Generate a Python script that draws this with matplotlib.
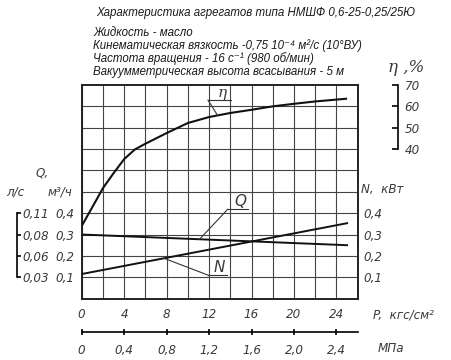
import numpy as np
import matplotlib
matplotlib.use("Agg")
import matplotlib.pyplot as plt

# pressure, kgf/cm2
p_eta = [0, 1, 2, 3, 4, 5, 6, 8, 10, 12, 14, 16, 18, 20, 22, 25]
eta = [4.0, 12.8, 21.7, 28.7, 35.3, 39.8, 42.5, 47.5, 52.2, 55.0, 56.9, 58.4, 60.0, 61.2, 62.3, 63.6]
p_line = [0, 25]
q_m3h = [0.30, 0.25]
n_kw = [0.115, 0.353]

p_ticks = [0, 4, 8, 12, 16, 20, 24]
mpa_ticks = [0, 0.4, 0.8, 1.2, 1.6, 2.0, 2.4]
q_ticks = [0.1, 0.2, 0.3, 0.4]
qls_labels = ["0,03", "0,06", "0,08", "0,11"]
n_ticks = [0.1, 0.2, 0.3, 0.4]
eta_ticks = [40, 50, 60, 70]

title = "Характеристика агрегатов типа НМШФ 0,6-25-0,25/25Ю"
info = ["Жидкость - масло",
        "Кинематическая вязкость -0,75 10⁻⁴ м²/с (10°ВУ)",
        "Частота вращения - 16 с⁻¹ (980 об/мин)",
        "Вакуумметрическая высота всасывания - 5 м"]

W, H = 451, 360
NARROW = ["DejaVu Sans"]
GREY = "#3a3a3a"
TICK = dict(family=NARROW, style="italic", fontsize=9.5, color=GREY, stretch="condensed")


def fx(px):
    return px / W


def fy(py):
    return 1 - py / H


fig = plt.figure(figsize=(W / 100, H / 100), dpi=100)
left, right, top, bottom = 81.7, 357.7, 85, 298.6
rect = [fx(left), fy(bottom), (right - left) / W, (bottom - top) / H]
ax = fig.add_axes(rect)
ax.set_xlim(0, 26)
ax.set_ylim(0, 1.0)
ax.set_xticks(np.arange(2, 26, 4), minor=True)
ax.set_yticks([0.5, 0.6, 0.7, 0.8, 0.9], minor=True)
for s in ax.spines.values():
    s.set_linewidth(1.4)
    s.set_color("#222222")

ax.set_xticks(p_ticks)
ax.set_xticklabels([str(v) for v in p_ticks], **TICK)
ax.set_yticks(q_ticks)
ax.set_yticklabels([f"{v:.1f}".replace(".", ",") for v in q_ticks], **TICK)
ax.grid(True, which="both", color="#444444", lw=0.8)
ax.tick_params(which="both", length=0)
ax.tick_params(axis="x", pad=7)
ax.tick_params(axis="y", pad=5)

# efficiency on its own scale, 10 % per grid cell
ax_eta = ax.twinx()
ax_eta.set_ylim(-30, 70)
ax_eta.spines["right"].set_position(("axes", (397.7 - left) / (right - left)))
ax_eta.spines["right"].set_bounds(40, 70)
ax_eta.spines["right"].set_linewidth(1.2)
for k in ["left", "top", "bottom"]:
    ax_eta.spines[k].set_visible(False)
ax_eta.set_yticks(eta_ticks)
ax_eta.set_yticklabels([str(v) for v in eta_ticks], **TICK)
ax_eta.tick_params(axis="y", direction="in", length=4, width=1.2, pad=5)

# power scale
ax_n = ax.twinx()
ax_n.set_ylim(0, 1.0)
for s in ax_n.spines.values():
    s.set_visible(False)
ax_n.set_yticks(n_ticks)
ax_n.set_yticklabels([f"{v:.1f}".replace(".", ",") for v in n_ticks], **TICK)
ax_n.tick_params(axis="y", length=0, pad=4)

# flow in l/s bracket
ax_ls = ax.twinx()
ax_ls.set_ylim(0, 1.0)
for k in ["left", "top", "bottom"]:
    ax_ls.spines[k].set_visible(False)
ax_ls.spines["right"].set_position(("axes", (17.3 - left) / (right - left)))
ax_ls.spines["right"].set_bounds(0.1, 0.4)
ax_ls.spines["right"].set_linewidth(1.2)
ax_ls.set_yticks(q_ticks)
ax_ls.set_yticklabels(qls_labels, **TICK)
ax_ls.tick_params(axis="y", direction="out", length=3, width=1.2, pad=1)

# MPa scale
ax_mpa = ax.twiny()
ax_mpa.set_xlim(0, 2.6)
for k in ["left", "right", "top"]:
    ax_mpa.spines[k].set_visible(False)
ax_mpa.xaxis.set_ticks_position("bottom")
ax_mpa.xaxis.set_label_position("bottom")
ax_mpa.spines["bottom"].set_position(("axes", -(331.7 - bottom) / (bottom - top)))
ax_mpa.spines["bottom"].set_linewidth(1.2)
ax_mpa.set_xticks(mpa_ticks)
ax_mpa.set_xticklabels([f"{v:.1f}".replace(".", ",") if v else "0" for v in mpa_ticks],
                       **TICK)
ax_mpa.tick_params(axis="x", direction="inout", length=5, width=1.2, pad=6)

# curves
ax_eta.plot(p_eta, eta, color="#111111", lw=1.5, solid_capstyle="butt")
ax.plot(p_line, q_m3h, color="#111111", lw=1.4)
ax_n.plot(p_line, n_kw, color="#111111", lw=1.4)


def leader(axis, px, py, shelf, label, lfam):
    axis.plot([shelf[0], shelf[1]], [shelf[2], shelf[2]], color="#333333", lw=0.8)
    axis.plot([shelf[0], px], [shelf[2], py], color="#333333", lw=0.8)
    axis.text((shelf[0] + shelf[1]) / 2 + 0.2, shelf[2], label, ha="center", va="bottom",
              fontsize=11, style="italic", family=lfam, color=GREY)


ax.autoscale(False)
ax_eta.autoscale(False)
ax_n.autoscale(False)
leader(ax_eta, 12.8, np.interp(12.8, p_eta, eta), (11.9, 14.1, 62.9), "η",
       ["DejaVu Serif"])
leader(ax, 11.1, np.interp(11.1, p_line, q_m3h), (13.75, 15.7, 0.418), "Q", NARROW)
leader(ax_n, 7.75, np.interp(7.75, p_line, n_kw), (11.9, 13.65, 0.110), "N", NARROW)

# axis captions
cap = dict(TICK)
fig.text(fx(35), fy(173), "Q,", ha="left", va="center", **cap)
fig.text(fx(6), fy(192), "л/с", ha="left", va="center", **cap)
fig.text(fx(48), fy(192), "м³/ч", ha="left", va="center", **cap)
fig.text(fx(361), fy(190), "N,  кВт", ha="left", va="center", **cap)
fig.text(fx(373), fy(315), "P,  кгс/см²", ha="left", va="center", **cap)
fig.text(fx(378), fy(349), "МПа", ha="left", va="center", **cap)
fig.text(fx(388), fy(67), "η ,%", ha="left", va="center", fontsize=12,
         style="italic", family=["DejaVu Serif"], color=GREY)

# header texts
hdr = dict(family=["Liberation Sans", "DejaVu Sans"], style="italic", fontsize=8.3,
           color="#1a1a1a")
fig.text(fx(96), fy(13), title, ha="left", va="center", **hdr)
for i, line in enumerate(info):
    fig.text(fx(93), fy(33 + 13 * i), line, ha="left", va="center", **hdr)

fig.savefig("out.png", dpi=100)
